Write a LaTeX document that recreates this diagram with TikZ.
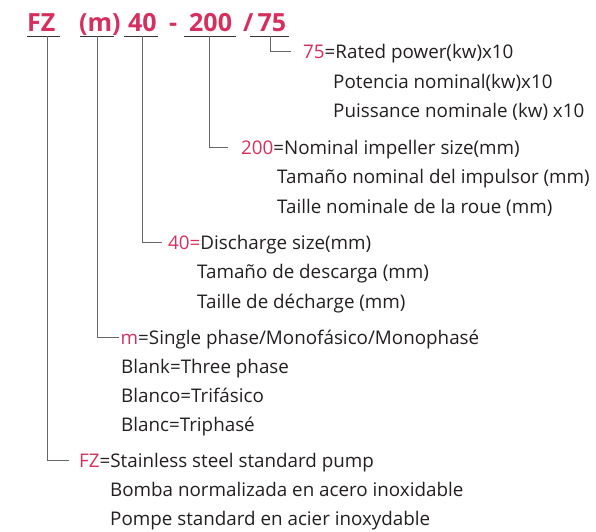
\documentclass[tikz,border=0pt]{standalone}
\usepackage{fontspec}
\setmainfont{Open Sans}
\definecolor{codered}{HTML}{D62F5E}
\definecolor{txt}{HTML}{231F20}
\definecolor{conn}{HTML}{666666}
\definecolor{uline}{HTML}{333333}
\begin{document}
\begin{tikzpicture}[x=1pt,y=-1pt,
  code/.style={anchor=base west,inner sep=0pt,text=codered,font=\fontsize{25}{25}\selectfont\bfseries},
  desc/.style={anchor=base west,inner sep=0pt,text=txt,text height=14pt,text depth=0pt,font=\fontsize{18.8}{18.8}\selectfont},
  ul/.style={draw=uline,line width=1pt},
  cn/.style={draw=conn,line width=1pt}]
\useasboundingbox (0,0) rectangle (596,531);
% title
\node[code] (tFZ) at (27,31) {FZ};
\node[code] (tm) at (79,31) {(m)};
\node[code] (t40) at (128,31) {40};
\node[code] (tdash) at (169,31) {-};
\node[code] (t200) at (189,31) {200};
\node[code] (t75) at (243,31) {/\,75};
% underlines
\draw[ul] (27,36) -- (60,36);
\draw[ul] (80,36) -- (114,36);
\draw[ul] (124,36) -- (158,36);
\draw[ul] (184,36) -- (236,36);
\draw[ul] (250,36) -- (289,36);
\coordinate (uFZ) at (47,36);
\coordinate (um) at (97,36);
\coordinate (u40) at (142,36);
\coordinate (u200) at (209.5,36);
\coordinate (u75) at (270,36);
% descriptions
\node[desc] (d75) at (303,58) {\textcolor{codered}{75}=Rated power(kw)x10};
\node[desc] (d75b) at (333,88) {Potencia nominal(kw)x10};
\node[desc] (d75c) at (333,117) {Puissance nominale (kw) x10};
\node[desc] (d200) at (241,154) {\textcolor{codered}{200}=Nominal impeller size(mm)};
\node[desc] (d200b) at (277,183.5) {Tamaño nominal del impulsor (mm)};
\node[desc] (d200c) at (277,213) {Taille nominale de la roue (mm)};
\node[desc] (d40) at (168,249) {\textcolor{codered}{40=}Discharge size(mm)};
\node[desc] (d40b) at (197,278.5) {Tamaño de descarga (mm)};
\node[desc] (d40c) at (197,308) {Taille de décharge (mm)};
\node[desc] (dm) at (120.5,344) {\textcolor{codered}{m}=Single phase/Monofásico/Monophasé};
\node[desc] (dmb) at (121,373) {Blank=Three phase};
\node[desc] (dmc) at (121,402) {Blanco=Trifásico};
\node[desc] (dmd) at (121,431) {Blanc=Triphasé};
\node[desc] (dFZ) at (79,467) {\textcolor{codered}{FZ}=Stainless steel standard pump};
\node[desc] (dFZb) at (110,496) {Bomba normalizada en acero inoxidable};
\node[desc] (dFZc) at (110,525) {Pompe standard en acier inoxydable};
% connectors
\draw[cn] (u75) |- ([xshift=-12pt]d75.west);
\draw[cn] (u200) |- ([xshift=-13pt]d200.west);
\draw[cn] (u40) |- ([xshift=-6pt]d40.west);
\draw[cn] (um) |- ([xshift=-2pt]dm.west);
\draw[cn] (uFZ) |- ([xshift=-10pt]dFZ.west);
\end{tikzpicture}
\end{document}
